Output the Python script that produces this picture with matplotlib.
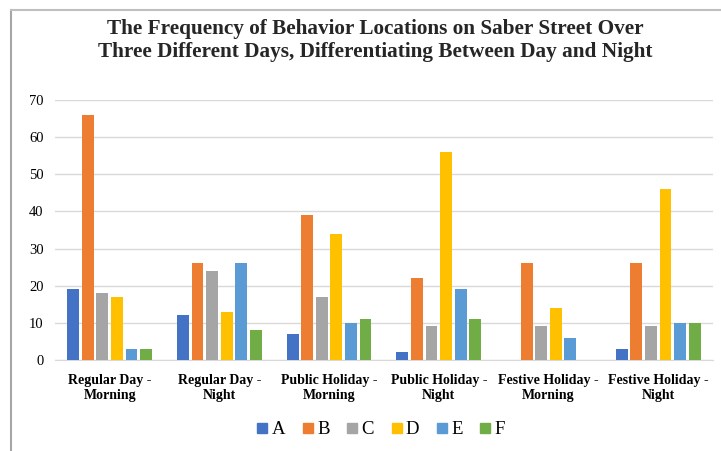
import matplotlib
matplotlib.use("Agg")
import matplotlib.pyplot as plt
import numpy as np
from matplotlib.lines import Line2D

categories = ["Regular Day -\nMorning", "Regular Day -\nNight", "Public Holiday -\nMorning",
              "Public Holiday -\nNight", "Festive Holiday -\nMorning", "Festive Holiday -\nNight"]
series_names = ["A", "B", "C", "D", "E", "F"]
A = [19, 12, 7, 2, 0, 3]
B = [66, 26, 39, 22, 26, 26]
C = [18, 24, 17, 9, 9, 9]
D = [17, 13, 34, 56, 14, 46]
E = [3, 26, 10, 19, 6, 10]
F = [3, 8, 11, 11, 0, 10]
series = [A, B, C, D, E, F]
colors = ["#4472C4", "#ED7D31", "#A5A5A5", "#FFC000", "#5B9BD5", "#70AD47"]

plt.rcParams['font.family'] = ['Liberation Serif', 'DejaVu Serif']

fig = plt.figure(figsize=(7.21, 4.51), dpi=100)
ax = fig.add_axes([0.076, 0.202, 0.913, 0.576])

x = np.arange(len(categories))
w = 0.108
step = 0.133
for i, (vals, c) in enumerate(zip(series, colors)):
    ax.bar(x + (i - 2.5) * step, vals, width=w, color=c, label=series_names[i], zorder=3)

ax.set_xlim(-0.5, len(categories) - 0.5)
ax.set_ylim(0, 70)
ax.set_yticks(range(0, 71, 10))
ax.yaxis.grid(True, color="#D9D9D9", linewidth=1, zorder=0)
ax.set_xticks(x)
ax.set_xticklabels(categories, fontsize=10, fontweight="bold", linespacing=1.2)
ax.tick_params(axis="both", length=0)
ax.tick_params(axis="y", labelsize=10.5, pad=8)
ax.tick_params(axis="x", pad=10)
for s in ["top", "right", "left"]:
    ax.spines[s].set_visible(False)
ax.spines["bottom"].set_color("#D9D9D9")

fig.text(0.52, 0.911, "The Frequency of Behavior Locations on Saber Street Over\nThree Different Days, Differentiating Between Day and Night",
         fontsize=15.3, fontweight="bold", ha="center", va="center", linespacing=1.2, color="#262626")

handles = [Line2D([0], [0], marker="s", linestyle="none", markersize=7,
                  markerfacecolor=c, markeredgecolor=c) for c in colors]
fig.legend(handles, series_names, loc="center", bbox_to_anchor=(0.527, 0.047), ncol=6,
           frameon=False, fontsize=13.5, handletextpad=0.1, columnspacing=0.8, handlelength=0.8)

fig.add_artist(Line2D([0.015, 0.015], [0, 1 - 10 / 451], transform=fig.transFigure, color="#A6A6A6", linewidth=1.5))
fig.add_artist(Line2D([0.015, 1], [1 - 10 / 451, 1 - 10 / 451], transform=fig.transFigure, color="#BFBFBF", linewidth=1.5))

fig.savefig("out.png", dpi=100)
